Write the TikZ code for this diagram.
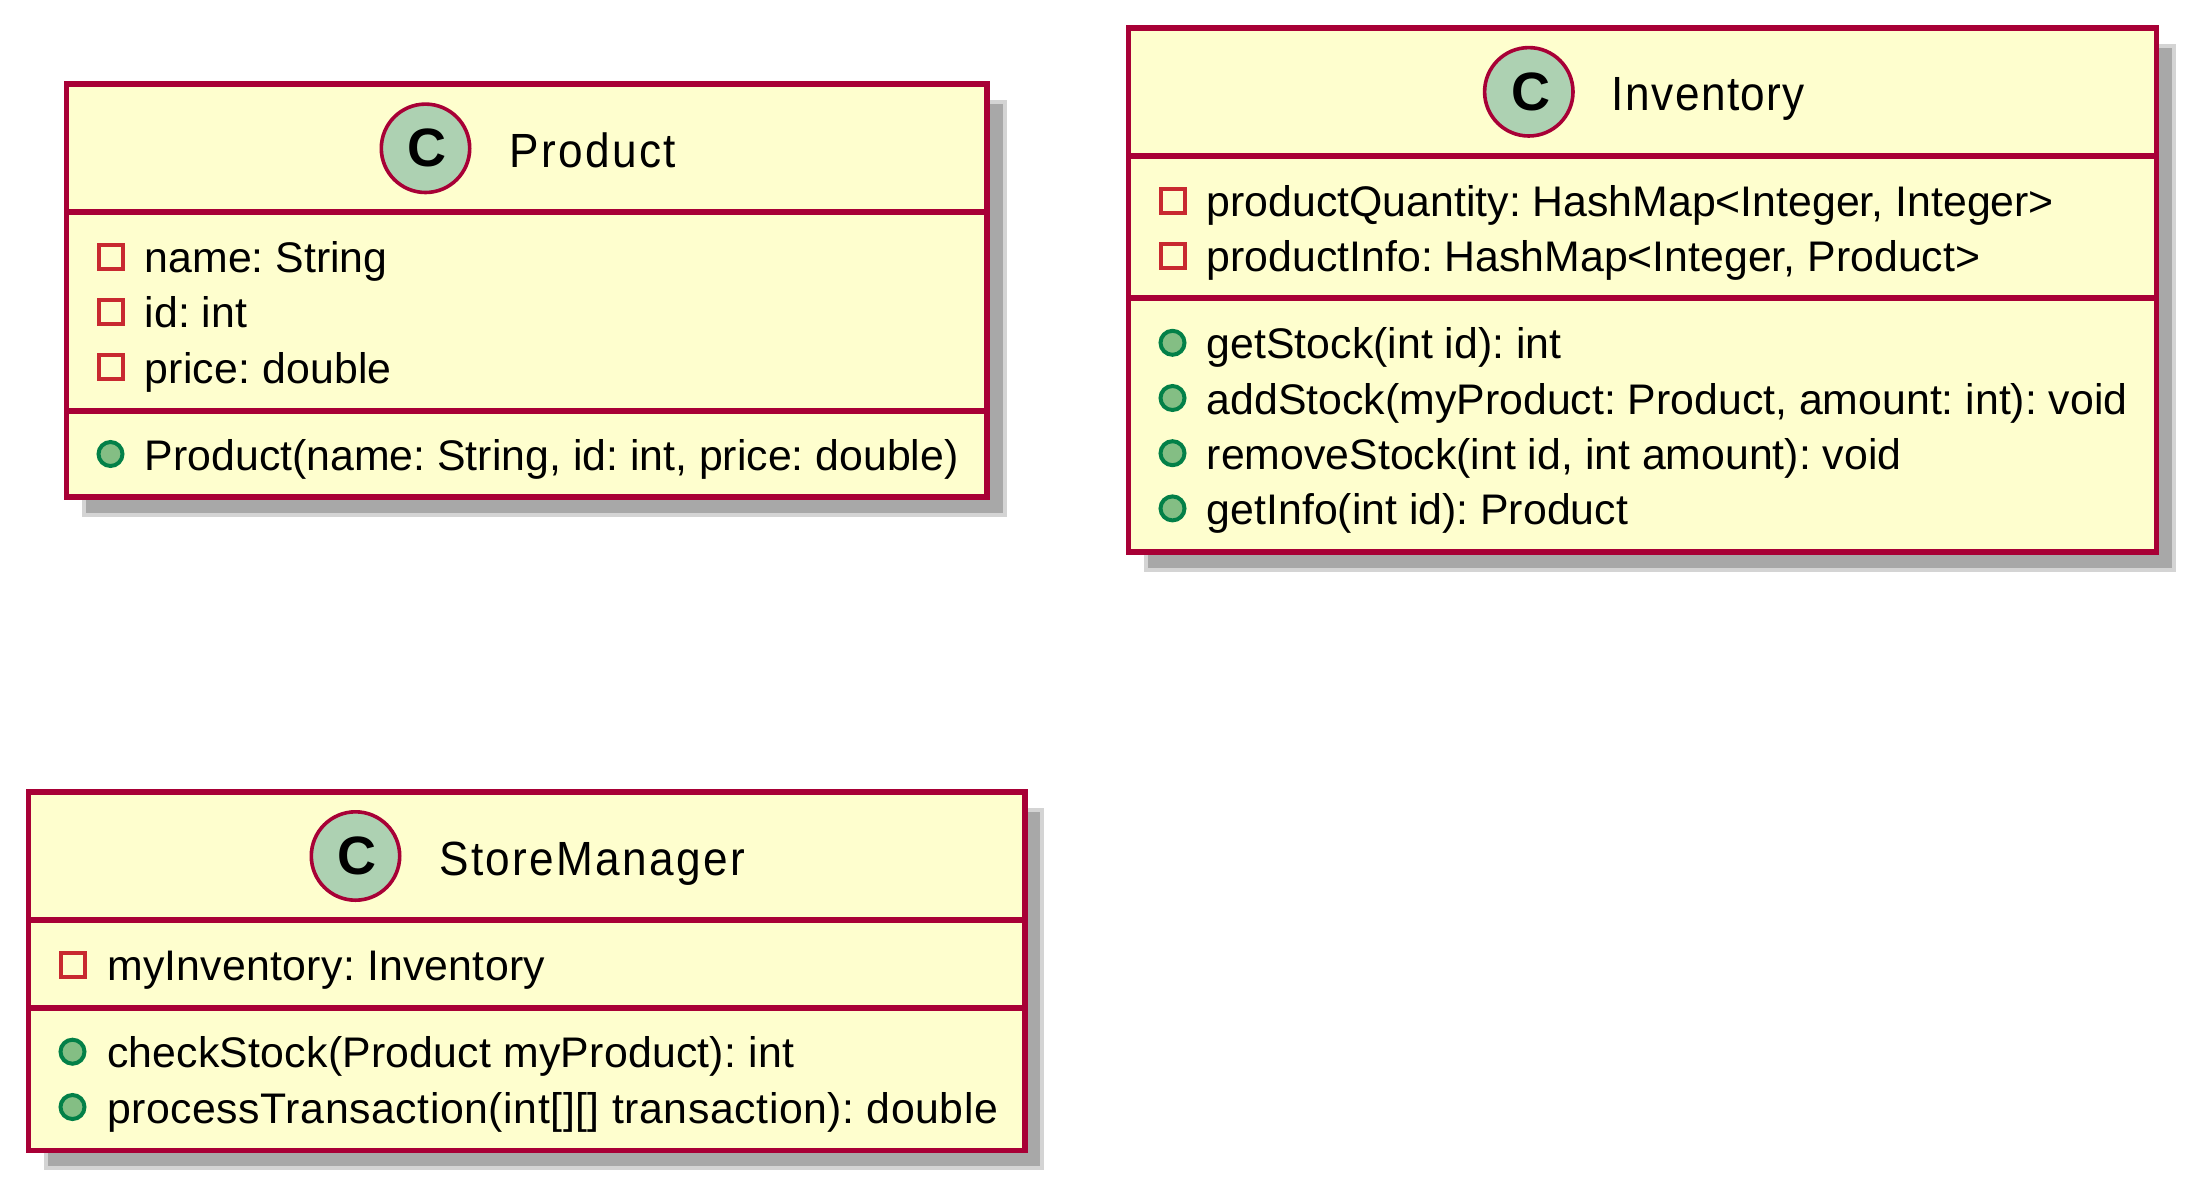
\documentclass[tikz,border=0pt]{standalone}
\usepackage{fontspec}
\setmainfont{Liberation Sans}
\newfontfamily\titlefont[FakeStretch=0.92, LetterSpace=3.6]{Liberation Sans}
\usetikzlibrary{positioning, shadows}
\definecolor{classline}{HTML}{A80036}
\definecolor{classback}{HTML}{FEFECE}
\definecolor{spotback}{HTML}{ADD1B2}
\definecolor{privline}{HTML}{C82930}
\definecolor{publine}{HTML}{038048}
\definecolor{pubback}{HTML}{84BE84}
\newcommand{\spotletter}{\hspace{3.6pt}\raisebox{-2.4pt}{C}}

\begin{document}
\begin{tikzpicture}[
            x = 1pt,
            y = -1pt, % coordinates are pixels of the page
            node distance = 0pt,
            line width = 5.8pt,
            spaced/.style = {font = \fontsize{42.8}{43}\selectfont\frenchspacing\addfontfeature{LetterSpace=#1}}
        ]

        \tikzstyle{frame}=[
            rectangle,
            outer sep = 0pt,
            inner sep = 0pt,
            anchor = north west,
            drop shadow = {shadow xshift = 17.5pt, shadow yshift = -17.5pt, fill = black!34, draw = black!17, line width = 4pt, opacity = 1}
        ]
        \tikzstyle{part}=[
            draw = classline,
            fill = classback,
            rectangle,
            outer sep = 0pt,
            inner sep = 0pt,
            anchor = north west
        ]
        \tikzstyle{spot}=[
            draw = classline,
            fill = spotback,
            circle,
            line width = 3.6pt,
            minimum size = 88.4pt,
            inner sep = 0pt,
            font = \fontsize{54}{54}\selectfont\bfseries
        ]
        \tikzstyle{classname}=[
            anchor = base west,
            inner sep = 0pt,
            font = \fontsize{48}{48}\titlefont
        ]
        \tikzstyle{member}=[
            anchor = base west,
            inner sep = 0pt,
            font = \fontsize{42.8}{43}\selectfont\frenchspacing
        ]
        \tikzstyle{private}=[
            draw = privline,
            rectangle,
            line width = 4pt,
            minimum size = 24pt,
            inner sep = 0pt
        ]
        \tikzstyle{public}=[
            draw = publine,
            fill = pubback,
            circle,
            line width = 4pt,
            minimum size = 24pt,
            inner sep = 0pt
        ]

        \useasboundingbox (0,0) rectangle (2208,1202);

        % Product
        \node[frame, minimum width = 920.5pt, minimum height = 412.7pt] (productframe) at (66.5,84.3) {};
        \node[part, minimum width = 920.5pt, minimum height = 128pt] (producthead) at (66.5,84.3) {};
        \node[part, minimum width = 920.5pt, minimum height = 198.7pt, below = of producthead.south west, anchor = north west] (productfields) {};
        \node[part, minimum width = 920.5pt, minimum height = 86pt, below = of productfields.south west, anchor = north west] (productmethods) {};
        \node[spot] (productspot) at (425.5,148.3) {\spotletter};
        \node[classname] (producttitle) at (507,167.3) {\addfontfeature{LetterSpace=4.8}Product};
        \node[private] (p1) at (110.5,256.7) {};
        \node[member] (name) at (142,272.7) {name: String};
        \node[private] (p2) at (110.5,311.8) {};
        \node[member] (id) at (142,327.8) {id: int};
        \node[private] (p3) at (110.5,367) {};
        \node[member, spaced=0.4] (price) at (142,383) {price: double};
        \node[public] (p4) at (110.5,454) {};
        \node[member] (productctor) at (142,470) {Product(name: String, id: int, price: double)};

        % Inventory
        \node[frame, minimum width = 1028pt, minimum height = 524pt] (inventoryframe) at (1128.5,28.3) {};
        \node[part, minimum width = 1028pt, minimum height = 128pt] (inventoryhead) at (1128.5,28.3) {};
        \node[part, minimum width = 1028pt, minimum height = 141.7pt, below = of inventoryhead.south west, anchor = north west] (inventoryfields) {};
        \node[part, minimum width = 1028pt, minimum height = 254.3pt, below = of inventoryfields.south west, anchor = north west] (inventorymethods) {};
        \node[spot] (inventoryspot) at (1528.8,91.8) {\spotletter};
        \node[classname] (inventorytitle) at (1609,110.8) {\addfontfeature{LetterSpace=3}Inventory};
        \node[private] (i1) at (1172.5,200.5) {};
        \node[member] (quantity) at (1204,216.7) {productQuantity: HashMap<Integer, Integer>};
        \node[private] (i2) at (1172.5,255.7) {};
        \node[member] (info) at (1204,271.9) {productInfo: HashMap<Integer, Product>};
        \node[public] (i3) at (1172.5,342.8) {};
        \node[member] (getstock) at (1204,358.8) {getStock(int id): int};
        \node[public] (i4) at (1172.5,398) {};
        \node[member] (addstock) at (1204,414) {addStock(myProduct: Product, amount: int): void};
        \node[public] (i5) at (1172.5,453.2) {};
        \node[member] (removestock) at (1204,469.2) {removeStock(int id, int amount): void};
        \node[public] (i6) at (1172.5,508.4) {};
        \node[member] (getinfo) at (1204,524.4) {getInfo(int id): Product};

        % StoreManager
        \node[frame, minimum width = 996.2pt, minimum height = 358.5pt] (storeframe) at (28.5,792) {};
        \node[part, minimum width = 996.2pt, minimum height = 128.3pt] (storehead) at (28.5,792) {};
        \node[part, minimum width = 996.2pt, minimum height = 87.4pt, below = of storehead.south west, anchor = north west] (storefields) {};
        \node[part, minimum width = 996.2pt, minimum height = 142.8pt, below = of storefields.south west, anchor = north west] (storemethods) {};
        \node[spot] (storespot) at (355.5,856) {\spotletter};
        \node[classname] (storetitle) at (436.5,875) {\addfontfeature{LetterSpace=4.9}StoreManager};
        \node[private] (s1) at (72.5,964.7) {};
        \node[member, spaced=0.6] (inventoryfield) at (104.2,980.7) {myInventory: Inventory};
        \node[public] (s2) at (72.5,1051.7) {};
        \node[member, spaced=0.5] (checkstock) at (104.2,1067.7) {checkStock(Product myProduct): int};
        \node[public] (s3) at (72.5,1107) {};
        \node[member, spaced=1.3] (transaction) at (104.2,1123) {processTransaction(int[][] transaction): double};
    \end{tikzpicture}
\end{document}
